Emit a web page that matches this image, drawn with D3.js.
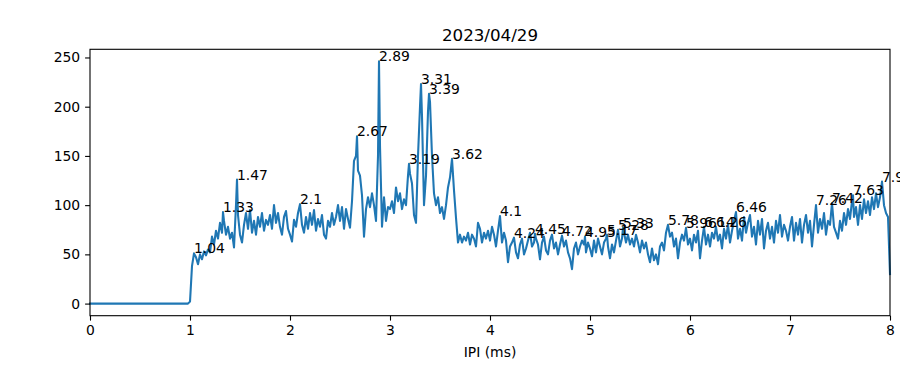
<!DOCTYPE html>
<html>
<head>
<meta charset="utf-8">
<script src="https://cdn.jsdelivr.net/npm/d3@7"></script>
<style>
body { margin: 0; background: #fff; }
svg { display: block; font-family: "DejaVu Sans", sans-serif; }
</style>
</head>
<body>
<svg id="chart" width="900" height="366"></svg>
<script>
// histogram of IPI, bins 0.02 ms apart starting at 0
var binStart = 0, binStep = 0.02;
var counts = [
    0, 0, 0, 0, 0, 0, 0, 0, 0, 0,
    0, 0, 0, 0, 0, 0, 0, 0, 0, 0,
    0, 0, 0, 0, 0, 0, 0, 0, 0, 0,
    0, 0, 0, 0, 0, 0, 0, 0, 0, 0,
    0, 0, 0, 0, 0, 0, 0, 0, 0, 0,
    2, 38, 44, 47, 40, 50, 45, 53, 49, 55,
    52, 68, 60, 74, 66, 82, 72, 84, 70, 78,
    66, 72, 57, 100, 90, 70, 62, 80, 92, 76,
    95, 72, 84, 70, 88, 78, 92, 74, 85, 80,
    90, 76, 100, 82, 92, 78, 70, 88, 94, 76,
    70, 63, 85, 78, 92, 101, 80, 72, 88, 76,
    92, 80, 95, 74, 86, 78, 90, 70, 66, 84,
    78, 92, 80, 88, 100, 84, 98, 76, 96, 86,
    77, 104, 145, 150, 135, 130, 110, 68, 96, 108,
    98, 112, 100, 84, 150, 160, 78, 108, 84, 98,
    96, 104, 92, 118, 104, 112, 96, 106, 100, 130,
    132, 122, 90, 82, 150, 200, 190, 100, 130, 195,
    205, 150, 112, 100, 108, 92, 98, 86, 100, 118,
    128, 147, 115, 87, 62, 70, 62, 68, 64, 72,
    60, 70, 66, 58, 82, 76, 62, 72, 66, 74,
    64, 78, 70, 58, 74, 89, 62, 72, 64, 42,
    58, 62, 67, 52, 46, 60, 66, 50, 56, 64,
    72, 58, 62, 66, 60, 45, 62, 68, 54, 50,
    64, 70, 56, 62, 50, 60, 69, 58, 64, 52,
    46, 35, 56, 62, 50, 58, 64, 60, 52, 62,
    56, 48, 64, 52, 66, 58, 50, 62, 66, 58,
    46, 60, 52, 64, 75, 58, 66, 72, 62, 70,
    60, 66, 58, 70, 62, 52, 64, 56, 62, 50,
    42, 56, 44, 50, 40, 58, 62, 54, 72, 80,
    68, 72, 58, 66, 46, 62, 70, 64, 77, 60,
    66, 54, 70, 62, 74, 46, 64, 78, 60, 70,
    58, 72, 66, 78, 64, 70, 56, 76, 66, 80,
    62, 74, 84, 93, 66, 76, 64, 88, 72, 82,
    90, 68, 78, 60, 84, 70, 86, 56, 74, 82,
    66, 78, 62, 84, 72, 90, 68, 80, 74, 64,
    78, 88, 64, 82, 70, 86, 62, 80, 90, 72,
    84, 58, 80, 100, 72, 86, 76, 92, 70, 84,
    80, 102, 78, 72, 66, 84, 74, 92, 80, 96,
    86, 104, 88, 98, 80, 100, 86, 106, 92, 104,
    90, 108, 96, 112, 98, 108, 124, 100, 92, 88,
    30
];

// annotated peaks [ipi, count]
var peaks = [
    [1.04, 51], [1.33, 93], [1.47, 126], [2.1, 101], [2.67, 170], [2.89, 246],
    [3.19, 142], [3.31, 223], [3.39, 213], [3.62, 147], [4.1, 89], [4.24, 67],
    [4.45, 71], [4.72, 69], [4.95, 68], [5.17, 70], [5.28, 75], [5.33, 77],
    [5.78, 80], [5.96, 77], [6.14, 78], [6.26, 78], [6.46, 93], [7.26, 100],
    [7.42, 102], [7.63, 110], [7.92, 124]
];

var xTicks = [0, 1, 2, 3, 4, 5, 6, 7, 8];
var yTicks = [0, 50, 100, 150, 200, 250];
var title = "2023/04/29";
var xLabel = "IPI (ms)";

//=================================================================

var plotLeft = 90, plotRight = 890, plotTop = 49.3, plotBottom = 315.7;

var points = counts.map(function(c, i) {
    return { ipi: +(binStart + i * binStep).toFixed(2), count: c };
});
peaks.forEach(function(p) {
    var hit = points.find(function(d) { return Math.abs(d.ipi - p[0]) < 1e-6; });
    if (hit) hit.count = p[1];
    else points.push({ ipi: p[0], count: p[1] });
});
points.sort(function(a, b) { return a.ipi - b.ipi; });

var yMin = d3.min(points, function(d) { return d.count; });
var yMax = d3.max(points, function(d) { return d.count; });
var pad = (yMax - yMin) * 0.05;

var x = d3.scaleLinear().domain([0, 8]).range([plotLeft, plotRight]);
var y = d3.scaleLinear().domain([yMin - pad, yMax + pad]).range([plotBottom, plotTop]);

var svg = d3.select("#chart");

var line = d3.line()
    .x(function(d) { return x(d.ipi); })
    .y(function(d) { return y(d.count); });

svg.append("path")
    .datum(points)
    .attr("d", line)
    .attr("fill", "none")
    .attr("stroke", "#1f77b4")
    .attr("stroke-width", 2.08)
    .attr("stroke-linejoin", "round")
    .attr("stroke-linecap", "square");

// axes
var xAxis = d3.axisBottom(x).tickValues(xTicks).tickFormat(d3.format("d"))
    .tickSizeInner(4.9).tickSizeOuter(0).tickPadding(4.9);
var yAxis = d3.axisLeft(y).tickValues(yTicks).tickFormat(d3.format("d"))
    .tickSizeInner(4.9).tickSizeOuter(0).tickPadding(4.9);

var gx = svg.append("g")
    .attr("transform", "translate(0," + plotBottom + ")")
    .call(xAxis);
var gy = svg.append("g")
    .attr("transform", "translate(" + plotLeft + ",0)")
    .call(yAxis);

[gx, gy].forEach(function(g) {
    g.select(".domain").remove();
    g.selectAll(".tick line").attr("stroke", "#000").attr("stroke-width", 1.1);
    g.selectAll(".tick text")
        .attr("fill", "#000")
        .style("font-family", "DejaVu Sans")
        .style("font-size", "13.9px");
});

// spines
svg.append("rect")
    .attr("x", plotLeft)
    .attr("y", plotTop)
    .attr("width", plotRight - plotLeft)
    .attr("height", plotBottom - plotTop)
    .attr("fill", "none")
    .attr("stroke", "#000")
    .attr("stroke-width", 1.1);

// peak labels
svg.selectAll(".peak")
    .data(peaks)
    .enter()
    .append("text")
        .attr("class", "peak")
        .attr("x", function(d) { return x(d[0]); })
        .attr("y", function(d) { return y(d[1]); })
        .style("font-size", "13.9px")
        .attr("fill", "#000")
        .text(function(d) { return String(d[0]); });

// title and label
svg.append("text")
    .attr("x", (plotLeft + plotRight) / 2)
    .attr("y", plotTop - 8.3)
    .attr("text-anchor", "middle")
    .style("font-size", "16.7px")
    .text(title);

svg.append("text")
    .attr("x", (plotLeft + plotRight) / 2)
    .attr("y", 357)
    .attr("text-anchor", "middle")
    .style("font-size", "13.9px")
    .text(xLabel);
</script>
</body>
</html>
